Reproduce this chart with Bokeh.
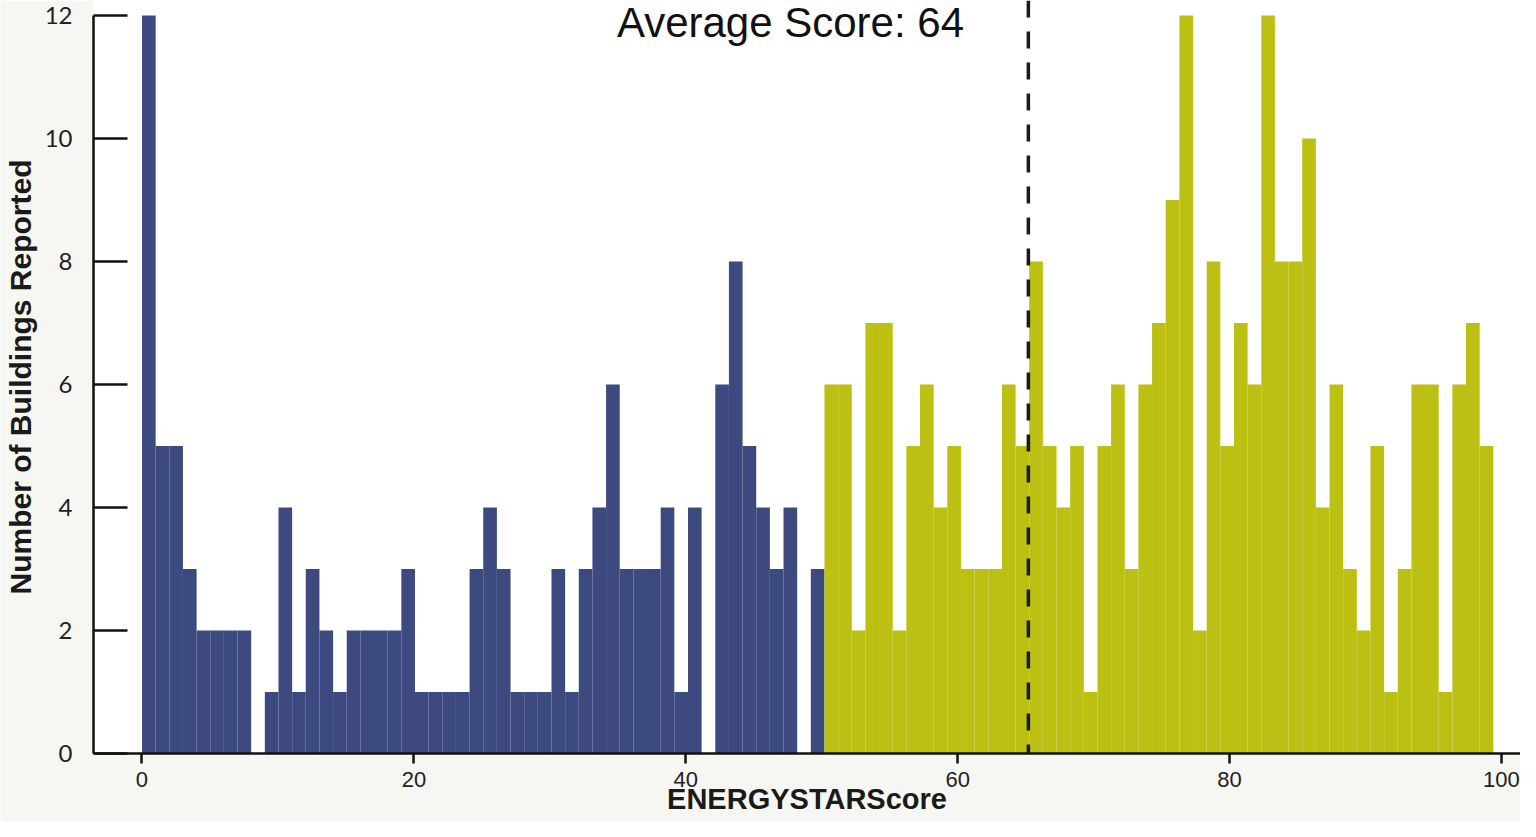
import numpy as np
from bokeh.plotting import figure
from bokeh.models import Label, Span, FixedTicker, Range1d
from bokeh.embed import file_html
from bokeh.resources import INLINE

# ---- data ----
# building counts for each one-point score bin, scores 0 .. 99
counts = [12, 5, 5, 3, 2, 2, 2, 2, 0, 1,
          4, 1, 3, 2, 1, 2, 2, 2, 2, 3,
          1, 1, 1, 1, 3, 4, 3, 1, 1, 1,
          3, 1, 3, 4, 6, 3, 3, 3, 4, 1,
          4, 0, 6, 8, 5, 4, 3, 4, 0, 3,
          6, 6, 2, 7, 7, 2, 5, 6, 4, 5,
          3, 3, 3, 6, 5, 8, 5, 4, 5, 1,
          5, 6, 3, 6, 7, 9, 12, 2, 8, 5,
          7, 6, 12, 8, 8, 10, 4, 6, 3, 2,
          5, 1, 3, 6, 6, 1, 6, 7, 5]
score_min = 0.0
score_max = 99.4
threshold = 50          # bars below this score are blue
avg_line_x = 65.2       # where the dashed average line is drawn
title_text = "Average Score: 64"
x_title = "ENERGYSTARScore"
y_title = "Number of Buildings Reported"
x_ticks = [0, 20, 40, 60, 80, 100]
y_ticks = [0, 2, 4, 6, 8, 10, 12]

edges = np.linspace(score_min, score_max, len(counts) + 1)
lefts = edges[:-1]
rights = edges[1:]
BLUE = "#3d4a80"
GREEN = "#bcc013"
colors = [BLUE if l < threshold else GREEN for l in lefts]

W, H = 1520, 821
p = figure(width=W, height=H, output_backend="svg", toolbar_location=None,
           x_range=Range1d(-3.567, 101.4), y_range=Range1d(0, 12.244),
           min_border_left=93, min_border_right=0, min_border_top=0,
           min_border_bottom=68)
p.background_fill_color = "white"
p.border_fill_color = "#f6f6f3"
p.outline_line_color = None
p.xgrid.visible = False
p.ygrid.visible = False

p.quad(left=lefts, right=rights, bottom=0, top=counts,
       fill_color=colors, line_color=None)

p.add_layout(Span(location=avg_line_x, dimension="height", line_color="#1a1a1a",
                  line_width=3.5, line_dash="17 14"))

narrow = "'Liberation Sans Narrow', 'Arial Narrow', 'Liberation Sans'"

# axes
p.xaxis.ticker = FixedTicker(ticks=x_ticks)
p.yaxis.ticker = FixedTicker(ticks=y_ticks)
for ax in (p.xaxis, p.yaxis):
    ax.axis_line_color = "#111111"
    ax.axis_line_width = 2.5
    ax.major_tick_line_color = "#111111"
    ax.major_tick_line_width = 2.5
    ax.minor_tick_line_color = None
    ax.major_label_text_color = "#222222"
    ax.axis_label_text_font = narrow
    ax.axis_label_text_font_style = "bold"
    ax.axis_label_text_color = "#1a1a1a"
p.yaxis.bounds = (0, 12)
p.yaxis.major_tick_in = 34
p.yaxis.major_tick_out = 0
p.yaxis.major_label_standoff = 21
p.yaxis.major_label_text_font = "Lato"
p.yaxis.major_label_text_font_size = "24px"
p.yaxis.axis_label = y_title
p.yaxis.axis_label_text_font_size = "30px"
p.yaxis.axis_label_standoff = 5

p.xaxis.major_tick_in = 0
p.xaxis.major_tick_out = 10
p.xaxis.major_label_standoff = 8
p.xaxis.major_label_text_font = "Liberation Sans"
p.xaxis.major_label_text_font_size = "22px"
p.xaxis.axis_label = x_title
p.xaxis.axis_label_text_font_size = "29px"
p.xaxis.axis_label_standoff = -7

p.add_layout(Label(x=47.7, y=11.88, text=title_text, text_align="center",
                   text_baseline="alphabetic", text_font="Liberation Sans",
                   text_font_size="42px", text_color="#111111"))

open("out.html", "w").write(file_html(p, INLINE))
